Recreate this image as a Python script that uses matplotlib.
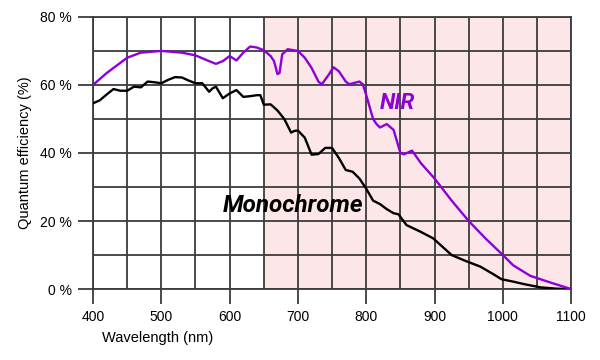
"""Quantum efficiency curves: monochrome vs NIR sensor."""

import matplotlib

matplotlib.use("Agg")
import matplotlib.pyplot as plt
from matplotlib.ticker import MultipleLocator

# NIR-enhanced sensor
nir_wl = [400, 420, 440, 450, 470, 500, 530, 550, 570, 580, 590, 600, 610,
          620, 630, 640, 650, 660, 665, 670, 673, 677, 685, 700, 710, 720,
          730, 735, 745, 752, 760, 770, 775, 790, 795, 800, 810, 815, 820,
          830, 840, 850, 855, 867, 880, 900, 925, 950, 975, 1000, 1015,
          1040, 1070, 1100]
nir_qe = [60.0, 63.5, 66.5, 68.0, 69.5, 70.0, 69.5, 68.7, 67.0, 66.2, 67.0,
          68.5, 67.2, 69.5, 71.3, 71.0, 70.2, 68.5, 67.0, 63.2, 63.5, 69.0,
          70.5, 70.0, 68.0, 65.0, 61.0, 60.2, 63.0, 65.2, 64.0, 61.0, 60.2,
          61.0, 60.2, 57.0, 50.0, 48.5, 47.5, 48.5, 46.8, 40.0, 39.6, 40.7,
          37.0, 32.5, 26.0, 20.0, 14.8, 10.0, 7.0, 3.9, 1.9, 0.0]

# Monochrome sensor
mono_wl = [400, 410, 420, 430, 440, 450, 460, 470, 480, 490, 500, 510, 520,
           530, 540, 550, 560, 570, 575, 580, 590, 600, 610, 620, 630, 640,
           645, 650, 660, 670, 680, 690, 695, 700, 710, 720, 730, 740, 750,
           760, 770, 780, 790, 800, 810, 820, 830, 840, 847, 859, 880, 898,
           925, 945, 967, 985, 998, 1015, 1030, 1055, 1080, 1100]
mono_qe = [54.6, 55.5, 57.2, 58.8, 58.3, 58.3, 59.5, 59.3, 61.0, 60.8, 60.5,
           61.5, 62.3, 62.2, 61.3, 60.5, 60.5, 58.0, 59.0, 59.5, 56.1, 57.5,
           58.5, 56.5, 56.7, 57.0, 57.0, 54.2, 54.3, 52.5, 50.0, 46.0, 46.5,
           46.6, 44.5, 39.5, 39.7, 41.5, 41.5, 38.5, 35.0, 34.5, 32.5, 29.5,
           26.0, 25.0, 23.5, 22.3, 22.0, 18.8, 16.8, 14.9, 10.0, 8.3, 6.6,
           4.5, 2.9, 2.2, 1.5, 0.5, 0.1, 0.0]

x_ticks = [400, 500, 600, 700, 800, 900, 1000, 1100]
y_ticks = [0, 20, 40, 60, 80]
nir_band = (650, 1100)

GRID = "#3c3c3c"
PURPLE = "#8f00d6"
PINK = "#fde6e7"

plt.rcParams["font.family"] = ["Liberation Sans", "DejaVu Sans"]

fig = plt.figure(figsize=(6, 3.6), dpi=100)
ax = fig.add_axes([0.155, 0.197, 0.797, 0.756])

ax.axvspan(*nir_band, color=PINK, zorder=0, lw=0)
ax.plot(mono_wl, mono_qe, color="black", lw=1.7, zorder=3)
ax.plot(nir_wl, nir_qe, color=PURPLE, lw=1.7, zorder=3)

ax.set_xlim(400, 1100)
ax.set_ylim(0, 80)
ax.set_xticks(x_ticks)
ax.set_yticks(y_ticks)
ax.set_yticklabels([f"{v} %" for v in y_ticks])
ax.xaxis.set_minor_locator(MultipleLocator(50))
ax.yaxis.set_minor_locator(MultipleLocator(10))
ax.grid(which="both", color=GRID, lw=1.3, zorder=1)
ax.set_axisbelow(True)
for spine in ax.spines.values():
    spine.set_color(GRID)
    spine.set_linewidth(1.3)
ax.tick_params(which="major", length=11, width=1.3, color=GRID,
               labelsize=10, pad=4)
ax.tick_params(which="minor", length=0)

ax.set_xlabel("Wavelength (nm)", fontsize=10.5, labelpad=4)
ax.xaxis.set_label_coords(0.135, -0.155)
ax.set_ylabel("Quantum efficiency (%)", fontsize=10.5, labelpad=6)

text_kw = dict(fontweight="bold", fontstyle="italic",
               family=["Roboto", "DejaVu Sans"])
ax.text(693, 24.5, "Monochrome", fontsize=17.5, color="black", ha="center",
        va="center", zorder=4, **text_kw)
ax.text(845, 54.7, "NIR", fontsize=16, color=PURPLE, ha="center",
        va="center", zorder=4, **text_kw)

fig.savefig("out.png", dpi=100)
